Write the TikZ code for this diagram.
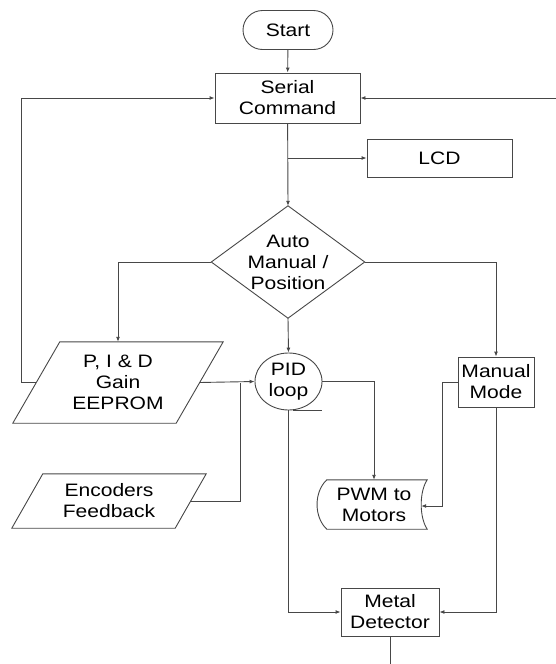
\documentclass[tikz,border=0pt]{standalone}
\usepackage{fontspec}
\setmainfont{Liberation Sans}[FakeStretch=1.17]
\usetikzlibrary{arrows.meta,shapes.geometric}
\begin{document}
\begin{tikzpicture}[x=1pt,y=-1pt,
  every node/.style={font=\fontsize{18}{21}\selectfont, align=center, inner sep=0pt, text=black},
  ln/.style={draw=black!72, line width=0.9pt},
  arr/.style={ln, -{Latex[length=5pt,width=4pt]}},
  boxnode/.style={ln, rectangle},
  plain/.style={rectangle}
]
\useasboundingbox (0,0) rectangle (556,664);

% nodes
\node[ln, rectangle, rounded corners=19.5pt, minimum width=90pt, minimum height=39pt] (start) at (288,30) {Start};
\node[boxnode, minimum width=145pt, minimum height=50pt] (serial) at (287.5,98) {Serial\\Command};
\node[boxnode, minimum width=145pt, minimum height=38pt] (lcd) at (439.5,158) {LCD};
\node[plain, minimum width=153pt, minimum height=112pt] (dm) at (288,262) {Auto\\Manual /\\Position};
\node[plain, minimum width=163pt, minimum height=81pt] (gain) at (118,382.5) {P, I \& D\\Gain\\EEPROM};
\node[plain, minimum width=163pt, minimum height=54pt] (enc) at (109,501) {Encoders\\Feedback};
\node[ln, ellipse, minimum width=67pt, minimum height=57pt] (pid) at (288.5,381.5) {PID\\loop};
\node[boxnode, minimum width=76pt, minimum height=50pt] (man) at (496,382) {Manual\\Mode};
\node[plain, minimum width=94pt, minimum height=49pt] (pwm) at (374,504.5) {PWM to\\Motors};
\node[boxnode, minimum width=98pt, minimum height=48pt] (metal) at (390,612) {Metal\\Detector};

% outlines of custom shapes
\draw[ln] (dm.north) -- (dm.east) -- (dm.south) -- (dm.west) -- cycle;
\draw[ln] ([xshift=23.5pt]gain.north west) -- ([xshift=23.5pt]gain.north east)
  -- ([xshift=-23.5pt]gain.south east) -- ([xshift=-23.5pt]gain.south west) -- cycle;
\draw[ln] ([xshift=15.5pt]enc.north west) -- ([xshift=15.5pt]enc.north east)
  -- ([xshift=-15.5pt]enc.south east) -- ([xshift=-15.5pt]enc.south west) -- cycle;
\draw[ln] (pwm.north west) -- ([xshift=6pt]pwm.north east)
  .. controls ([xshift=-2pt,yshift=-12pt]pwm.north east) and ([xshift=-2pt,yshift=12pt]pwm.south east) .. ([xshift=6pt]pwm.south east)
  -- (pwm.south west)
  .. controls ([xshift=-13pt,yshift=12pt]pwm.south west) and ([xshift=-13pt,yshift=-12pt]pwm.north west) .. (pwm.north west) -- cycle;
\draw[ln] ([xshift=4.5pt]pid.south) -- ([xshift=33.5pt]pid.south);

% free ends
\coordinate (rightin) at (556,98);
\coordinate (metalout) at (390,664);

% connectors
\draw[arr] (start) -- (serial);
\draw[arr] (serial) -- (dm.north);
\draw[arr] (serial.south |- lcd.west) -- (lcd.west);
\draw[arr] (rightin) -- (serial.east);
\draw[arr] (dm.west) -| (gain.north);
\draw[arr] (dm.east) -| (man.north);
\draw[arr] (dm.south) -- (pid.north);
\draw[arr] (gain.west) -- ++(-14.5,0) |- (serial.west);
\draw[arr] (gain.east) -- (pid.west);
\draw[ln] (enc.east) -- (240,501) -- (240,382.5);
\draw[arr] (pid.east) -| (pwm.north);
\draw[arr] (man.west) -- ++(-15,0) |- ([yshift=-1.5pt]pwm.east);
\draw[arr] (pid.south) |- (metal.west);
\draw[arr] (man.south) |- (metal.east);
\draw[ln] (metal.south) -- (metalout);
\end{tikzpicture}
\end{document}
